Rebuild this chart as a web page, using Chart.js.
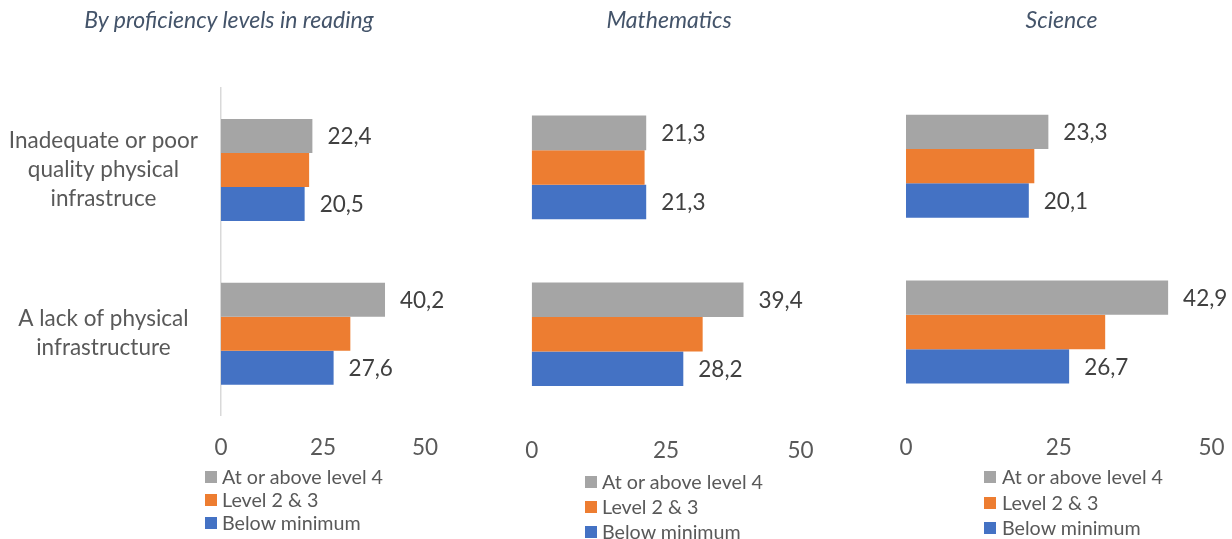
<!DOCTYPE html>
<html>
<head>
<meta charset="utf-8">
<script src="https://cdn.jsdelivr.net/npm/chart.js@4/dist/chart.umd.min.js"></script>
<style>
  html, body { margin: 0; padding: 0; background: #fff; }
  body { width: 1232px; height: 539px; position: relative; overflow: hidden; font-family: Lato, "Open Sans", sans-serif; }
  .box { position: absolute; top: 0; height: 539px; }
  .title { position: absolute; top: 4px; font-style: italic; font-size: 23px; color: #44546A; white-space: nowrap; transform: translateX(-50%); line-height: 30px; }
  .legend { position: absolute; font-size: 19.7px; color: #595959; }
  .legend div { position: absolute; white-space: nowrap; line-height: 22px; }
  .legend span.sw { position: absolute; width: 12px; height: 12px; top: 5px; }
</style>
</head>
<body>
<script>
// ---- Data ----
const categories = [["Inadequate or poor", "quality physical", "infrastruce"], ["A lack of physical", "infrastructure"]];
const seriesNames = ["At or above level 4", "Level 2 & 3", "Below minimum"];
const panelTitles = ["By proficiency levels in reading", "Mathematics", "Science"];
const xTicks = [0, 25, 50];

const readingTop = [22.4, 40.2];
const readingMid = [21.6, 31.7];
const readingLow = [20.5, 27.6];

const mathTop = [21.3, 39.4];
const mathMid = [21.0, 31.8];
const mathLow = [21.3, 28.2];

const scienceTop = [23.3, 42.9];
const scienceMid = [21.0, 32.6];
const scienceLow = [20.1, 26.7];

const seriesColors = ["#A5A5A5", "#ED7D31", "#4472C4"];
const labelledSeries = [0, 2];

const FONT = 'Lato, "Open Sans", sans-serif';

// ---- Layout per panel ----
const panels = [
  { data: [readingTop, readingMid, readingLow], left: 0, width: 460, plotRight: 425, yw: 221, top: 88.2, bottom: 415.5, tickPad: 19, catPct: 0.623, showCats: true, axisLine: true,
    titleX: 229, legend: { sx: 205, tx: 222, ys: [477, 500, 523] } },
  { data: [mathTop, mathMid, mathLow], left: 470, width: 360, plotRight: 800.5, yw: 61.7, top: 84, bottom: 417.7, tickPad: 20, catPct: 0.621, showCats: false, axisLine: false,
    titleX: 669, legend: { sx: 585, tx: 602, ys: [482, 507, 532] } },
  { data: [scienceTop, scienceMid, scienceLow], left: 850, width: 382, plotRight: 1211.5, yw: 56, top: 83.3, bottom: 414.9, tickPad: 19, catPct: 0.621, showCats: false, axisLine: false,
    titleX: 1061.5, legend: { sx: 984, tx: 1002, ys: [477, 503, 528] } }
];

const valueLabels = {
  id: 'valueLabels',
  afterDatasetsDraw(chart) {
    const ctx = chart.ctx;
    ctx.save();
    ctx.font = '22.5px ' + FONT;
    ctx.fillStyle = '#404040';
    ctx.textAlign = 'left';
    ctx.textBaseline = 'middle';
    labelledSeries.forEach(di => {
      const meta = chart.getDatasetMeta(di);
      meta.data.forEach((bar, i) => {
        const v = chart.data.datasets[di].data[i];
        ctx.fillText(v.toFixed(1).replace('.', ','), bar.x + 15, bar.y + 1);
      });
    });
    ctx.restore();
  }
};

panels.forEach((p, pi) => {
  const box = document.createElement('div');
  box.className = 'box';
  box.style.left = p.left + 'px';
  box.style.width = p.width + 'px';
  const cv = document.createElement('canvas');
  box.appendChild(cv);
  document.body.appendChild(box);

  const t = document.createElement('div');
  t.className = 'title';
  t.style.left = p.titleX + 'px';
  t.textContent = panelTitles[pi];
  document.body.appendChild(t);

  const lg = document.createElement('div');
  lg.className = 'legend';
  lg.style.left = '0px'; lg.style.top = '0px';
  seriesNames.forEach((name, si) => {
    const row = document.createElement('div');
    row.style.left = p.legend.sx + 'px';
    row.style.top = (p.legend.ys[si] - 11) + 'px';
    const sw = document.createElement('span');
    sw.className = 'sw';
    sw.style.left = '0px';
    sw.style.background = seriesColors[si];
    const tx = document.createElement('span');
    tx.style.position = 'absolute';
    tx.style.left = (p.legend.tx - p.legend.sx) + 'px';
    tx.textContent = name;
    row.appendChild(sw); row.appendChild(tx);
    lg.appendChild(row);
  });
  document.body.appendChild(lg);

  new Chart(cv, {
    type: 'bar',
    data: {
      labels: categories,
      datasets: p.data.map((d, si) => ({
        label: seriesNames[si],
        data: d,
        backgroundColor: seriesColors[si],
        borderWidth: 0,
        categoryPercentage: p.catPct,
        barPercentage: 1
      }))
    },
    options: {
      indexAxis: 'y',
      responsive: true,
      maintainAspectRatio: false,
      animation: false,
      layout: { padding: { top: p.top, right: p.left + p.width - p.plotRight, left: 0, bottom: 0 } },
      plugins: { legend: { display: false }, tooltip: { enabled: false }, title: { display: false } },
      scales: {
        x: {
          min: 0, max: 50,
          afterBuildTicks(scale) { scale.ticks = xTicks.map(v => ({ value: v })); },
          grid: { display: false, drawTicks: true, tickLength: p.tickPad - 3 },
          border: { display: false },
          ticks: { padding: 3, color: '#595959', font: { family: FONT, size: 22.5 } },
          afterFit(scale) { scale.height = 539 - p.bottom; }
        },
        y: {
          grid: { display: false, drawTicks: false },
          border: { display: p.axisLine, color: '#D9D9D9', width: 1.5 },
          ticks: { display: p.showCats, padding: 23, crossAlign: 'center', color: '#595959', font: { family: FONT, size: 22.5, lineHeight: 1.29 } },
          afterFit(scale) { scale.width = p.yw; }
        }
      }
    },
    plugins: [valueLabels]
  });
});
</script>
</body>
</html>
